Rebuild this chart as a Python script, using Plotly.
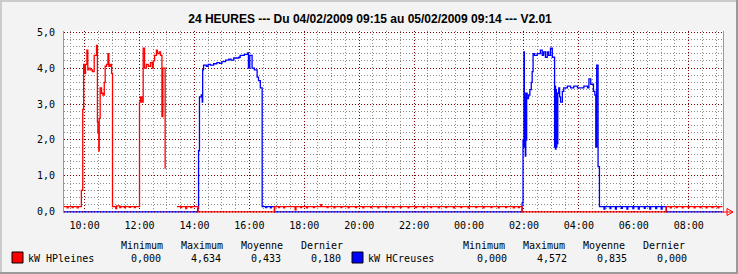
import plotly.graph_objects as go
from datetime import datetime, timedelta

# ---------------- data ----------------
title_text = "24 HEURES --- Du 04/02/2009 09:15 au 05/02/2009 09:14 --- V2.01"

hp_times = [
    "09:15", "09:22", "09:24", "09:33", "09:35", "09:44", "09:46",
    "09:53", "09:56", "09:58", "10:00", "10:02", "10:05", "10:07", "10:08", "10:12", "10:17",
    "10:21", "10:26", "10:28", "10:29", "10:31", "10:32", "10:34", "10:37", "10:40", "10:43",
    "10:45", "10:48", "10:51", "10:53", "10:56", "10:59",
    "11:01", "11:08", "11:10", "11:17", "11:19", "11:27", "11:29", "11:38", "11:40", "11:49", "11:51",
    "12:00", "12:02", "12:05", "12:08", "12:11", "12:15", "12:19", "12:24", "12:28", "12:30",
    "12:33", "12:37", "12:39", "12:43", "12:46", "12:49", "12:51", "12:56", "12:58",
    "13:22", "13:30", "13:32", "13:41", "13:43", "13:52", "13:54", "14:08",
    "16:55", "17:04", "17:06", "17:15", "17:17", "17:40", "17:42", "17:52", "17:54", "18:05",
    "18:07", "18:20", "18:22", "18:36", "18:38", "18:50", "18:52", "19:05", "19:07", "19:20",
    "19:22", "19:36", "19:38", "19:52", "19:54", "20:08", "20:10", "20:25", "20:27", "20:41",
    "20:43", "20:58", "21:00", "21:14", "21:16", "21:30", "21:32", "21:47", "21:49", "22:03",
    "22:05", "22:20", "22:22", "22:36", "22:38", "22:53", "22:55", "23:09", "23:11", "23:26",
    "23:28", "23:42", "23:44", "23:58", "00:00", "00:15", "00:17", "00:31", "00:33", "00:48",
    "00:50", "01:04", "01:06", "01:20", "01:22", "01:37", "01:39", "01:48", "01:50", "01:56",
    "07:11", "07:20", "07:22", "07:33", "07:35", "07:46", "07:48", "07:59", "08:01", "08:12",
    "08:14", "08:25", "08:27", "08:38", "08:40", "08:51", "08:53", "09:04", "09:06", "09:14",
]
hp_values = [
    0.15, 0.11, 0.15, 0.12, 0.15, 0.11, 0.15,
    0.60, 2.85, 4.10, 3.85, 4.10, 4.50, 3.95, 4.00, 3.95, 3.90,
    4.35, 4.63, 2.50, 2.20, 1.70, 2.60, 3.45, 3.30, 3.25, 3.60,
    4.05, 4.10, 4.40, 4.05, 4.10, 3.85,
    0.15, 0.09, 0.17, 0.12, 0.15, 0.12, 0.15, 0.13, 0.15, 0.12, 0.15,
    3.05, 3.20, 3.05, 4.55, 4.00, 4.10, 4.05, 4.15, 4.00, 4.20,
    4.35, 4.50, 4.40, 4.45, 4.35, 2.65, 4.00, 1.20, None,
    0.15, 0.12, 0.15, 0.09, 0.15, 0.12, 0.15, 0.00,
    0.15, 0.12, 0.15, 0.11, 0.15, 0.06, 0.15, 0.12, 0.15, 0.11,
    0.15, 0.12, 0.15, 0.20, 0.15, 0.12, 0.15, 0.11, 0.15, 0.12,
    0.15, 0.11, 0.15, 0.12, 0.15, 0.11, 0.15, 0.12, 0.15, 0.11,
    0.15, 0.12, 0.15, 0.11, 0.15, 0.12, 0.15, 0.11, 0.15, 0.12,
    0.15, 0.11, 0.15, 0.12, 0.15, 0.11, 0.15, 0.12, 0.15, 0.11,
    0.15, 0.12, 0.15, 0.11, 0.15, 0.12, 0.15, 0.11, 0.15, 0.12,
    0.15, 0.11, 0.15, 0.12, 0.15, 0.11, 0.15, 0.12, 0.15, 0.00,
    0.15, 0.11, 0.15, 0.12, 0.15, 0.11, 0.15, 0.12, 0.15, 0.11,
    0.15, 0.12, 0.15, 0.11, 0.15, 0.12, 0.15, 0.11, 0.15, 0.15,
]

hc_times = [
    "09:15", "14:07", "14:09", "14:11", "14:15", "14:17", "14:18", "14:20", "14:26", "14:30",
    "14:35", "14:42", "14:49", "14:55", "15:00", "15:08", "15:15", "15:20", "15:26", "15:37",
    "15:40", "15:49", "15:56", "15:58", "16:01", "16:06", "16:11", "16:17", "16:20", "16:24",
    "16:28", "16:36", "16:38", "16:46", "16:48", "16:55",
    "01:56", "01:58", "01:59", "02:00", "02:01", "02:02", "02:03", "02:04", "02:05", "02:06",
    "02:07", "02:10", "02:13", "02:16", "02:18", "02:20", "02:23", "02:29", "02:36", "02:40",
    "02:43", "02:47", "02:51", "02:54", "02:58", "03:02", "03:07", "03:08", "03:09", "03:10",
    "03:11", "03:12", "03:13", "03:14", "03:16", "03:18", "03:20", "03:24", "03:27", "03:35",
    "03:42", "03:49", "03:57", "04:04", "04:11", "04:19", "04:22", "04:26", "04:32", "04:35",
    "04:37", "04:39", "04:42", "04:45",
    "04:55", "04:57", "05:08", "05:10", "05:20", "05:22", "05:33", "05:35", "05:45", "05:47",
    "05:58", "06:00", "06:10", "06:12", "06:23", "06:25", "06:35", "06:37", "06:48", "06:50",
    "07:00", "07:02", "07:11", "09:14",
]
hc_values = [
    0.00, 0.10, 1.70, 3.20, 3.25, 3.05, 3.95, 4.08, 4.05, 4.10,
    4.08, 4.12, 4.15, 4.13, 4.18, 4.22, 4.25, 4.22, 4.28, 4.30,
    4.35, 4.38, 4.42, 4.00, 4.35, 4.00, 3.95, 3.75, 3.65, 3.45,
    0.15, 0.12, 0.15, 0.11, 0.15, 0.00,
    0.25, 2.00, 1.80, 4.45, 1.80, 3.20, 1.55, 3.30, 2.00, 3.30,
    3.15, 3.25, 3.40, 3.60, 3.90, 4.40, 4.35, 4.40, 4.50, 4.35,
    4.45, 4.30, 4.45, 4.35, 4.55, 4.30, 1.80, 3.50, 1.75, 3.40,
    1.80, 3.30, 1.90, 3.30, 3.45, 3.20, 3.05, 3.35, 3.45, 3.50,
    3.45, 3.50, 3.45, 3.45, 3.50, 3.45, 3.70, 3.55, 3.35, 3.25,
    1.80, 4.08, 1.26, 0.15,
    0.08, 0.15, 0.09, 0.15, 0.08, 0.15, 0.10, 0.15, 0.08, 0.15,
    0.09, 0.15, 0.08, 0.15, 0.10, 0.15, 0.08, 0.15, 0.09, 0.15,
    0.08, 0.15, 0.00, 0.00,
]

series_names = ["kW HPleines", "kW HCreuses"]
series_colors = ["#FF0000", "#0000FF"]
stat_labels = ["Minimum", "Maximum", "Moyenne", "Dernier"]
hp_stats = ["0,000", "4,634", "0,433", "0,180"]
hc_stats = ["0,000", "4,572", "0,835", "0,000"]

# ---------------- helpers ----------------
def to_dt(hhmm):
    day = 4 if hhmm >= "09:15" else 5
    return datetime(2009, 2, day, int(hhmm[:2]), int(hhmm[3:]))

hp_x = [to_dt(t) for t in hp_times]
hc_x = [to_dt(t) for t in hc_times]

W, H = 738, 274
ML, MR, MT, MB = 64, 15, 31, 61
PW = W - ML - MR
PH = H - MT - MB

def pxx(px):
    return (px - ML) / PW

def pxy(py):
    return (H - MB - py) / PH

MONO = "DejaVu Sans Mono"
MAJOR = "#800000"
MINOR = "#8C8C8C"

fig = go.Figure()
fig.add_trace(go.Scatter(x=hc_x, y=hc_values, mode="lines", name=series_names[1],
                         line=dict(color=series_colors[1], width=1.3, shape="hv"),
                         connectgaps=False, hoverinfo="skip"))
fig.add_trace(go.Scatter(x=hp_x, y=hp_values, mode="lines", name=series_names[0],
                         line=dict(color=series_colors[0], width=1.3, shape="hv"),
                         connectgaps=False, hoverinfo="skip"))

fig.update_layout(
    width=W, height=H,
    margin=dict(l=ML, r=MR, t=MT, b=MB, pad=0),
    paper_bgcolor="#F3F3F3", plot_bgcolor="#FFFFFF",
    showlegend=False,
    separators=",.",
    title=dict(text="<b>" + title_text + "</b>", x=370 / W, xref="container", xanchor="center",
               y=1 - 19 / H, yref="container", yanchor="middle",
               font=dict(family="Liberation Sans", size=12, color="#000000")),
)

fig.update_xaxes(
    type="date",
    range=[datetime(2009, 2, 4, 9, 15), datetime(2009, 2, 5, 9, 15)],
    tick0=datetime(2009, 2, 4, 10, 0), dtick=2 * 3600 * 1000, tickformat="%H:%M",
    showgrid=True, gridcolor=MAJOR, griddash="1px,2px", gridwidth=1,
    minor=dict(dtick=1800 * 1000, tick0=datetime(2009, 2, 4, 10, 0), showgrid=True,
               gridcolor=MINOR, griddash="1px,2px", gridwidth=1),
    showline=False, zeroline=False, ticks="",
    tickfont=dict(family=MONO, size=10, color="#000000"),
    ticklabelstandoff=5,
)
fig.update_yaxes(
    range=[-0.03, 5.03], tick0=0, dtick=1, tickformat=".1f",
    showgrid=True, gridcolor=MAJOR, griddash="1px,2px", gridwidth=1,
    minor=dict(dtick=0.2, tick0=0, showgrid=True, gridcolor=MINOR, griddash="1px,2px", gridwidth=1),
    showline=True, linecolor="#999999", linewidth=1, mirror=True,
    zeroline=False, ticks="",
    tickfont=dict(family=MONO, size=10, color="#000000"),
    ticklabelstandoff=6,
)

shapes = []
# dotted major grid over the zero line
shapes.append(dict(type="line", xref="paper", yref="y", x0=0, x1=1, y0=0, y1=0,
                   line=dict(color=MAJOR, width=1, dash="1px,2px"), layer="above"))
# axis extension and arrow
shapes.append(dict(type="line", xref="paper", yref="paper", x0=pxx(722), x1=pxx(733),
                   y0=pxy(212), y1=pxy(212), line=dict(color="#FF0000", width=1)))
shapes.append(dict(type="path", xref="paper", yref="paper",
                   path="M {0},{1} L {2},{3} L {4},{5} Z".format(
                       pxx(727), pxy(208.5), pxx(733), pxy(212), pxx(727), pxy(215.5)),
                   line=dict(color="#FF0000", width=1), fillcolor="rgba(0,0,0,0)"))
# frame border
shapes.append(dict(type="rect", xref="paper", yref="paper", x0=pxx(0), x1=pxx(738), y0=pxy(2), y1=pxy(0),
                   fillcolor="#CBCBCB", line=dict(width=0), layer="below"))
shapes.append(dict(type="rect", xref="paper", yref="paper", x0=pxx(0), x1=pxx(2), y0=pxy(274), y1=pxy(0),
                   fillcolor="#CBCBCB", line=dict(width=0), layer="below"))
shapes.append(dict(type="rect", xref="paper", yref="paper", x0=pxx(0), x1=pxx(738), y0=pxy(274), y1=pxy(272),
                   fillcolor="#9A9A9A", line=dict(width=0), layer="below"))
shapes.append(dict(type="rect", xref="paper", yref="paper", x0=pxx(736), x1=pxx(738), y0=pxy(274), y1=pxy(0),
                   fillcolor="#9A9A9A", line=dict(width=0), layer="below"))
# legend squares
for x0, col in zip([12, 352], series_colors):
    shapes.append(dict(type="rect", xref="paper", yref="paper", x0=pxx(x0), x1=pxx(x0 + 11),
                       y0=pxy(263), y1=pxy(252), fillcolor=col, line=dict(color="#000000", width=1)))
fig.update_layout(shapes=shapes)

annotations = []
def add_text(txt, px, py):
    annotations.append(dict(text=txt, xref="paper", yref="paper", x=pxx(px), y=pxy(py),
                            xanchor="left", yanchor="middle", showarrow=False, borderpad=0,
                            font=dict(family=MONO, size=10, color="#000000")))

add_text(series_names[0], 27, 258)
add_text(series_names[1], 367, 258)
for i, lab in enumerate(stat_labels):
    add_text(lab, 120 + 60 * i, 245)
    add_text(lab, 462 + 60 * i, 245)
    add_text(hp_stats[i], 130 + 60 * i, 258)
    add_text(hc_stats[i], 476 + 60 * i, 258)
fig.update_layout(annotations=annotations)

fig.write_html("out.html")
